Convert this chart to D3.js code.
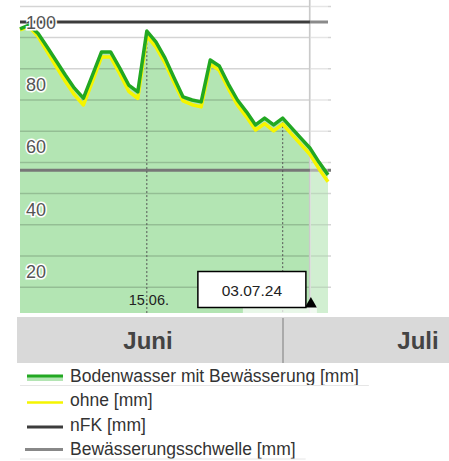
<!DOCTYPE html>
<html>
<head>
<meta charset="utf-8">
<script src="https://cdn.jsdelivr.net/npm/d3@7"></script>
<style>
    html, body { margin: 0; padding: 0; background: #fff; }
    svg { display: block; font-family: 'Liberation Sans', Arial, sans-serif; }
</style>
</head>
<body>
<div id="chart"></div>
<script>
///// DATOS //////
const fechas = ['01.06.', '02.06.', '03.06.', '04.06.', '05.06.', '06.06.', '07.06.', '08.06.', '09.06.', '10.06.',
    '11.06.', '12.06.', '13.06.', '14.06.', '15.06.', '16.06.', '17.06.', '18.06.', '19.06.', '20.06.',
    '21.06.', '22.06.', '23.06.', '24.06.', '25.06.', '26.06.', '27.06.', '28.06.', '29.06.', '30.06.',
    '01.07.', '02.07.', '03.07.', '04.07.', '05.07.'];

// Bodenwasser mit Bewässerung [mm]
const mitBewaesserung = [97.8, 99.0, 96.3, 92.0, 87.5, 83.0, 78.8, 75.6, 83.0, 90.4,
    90.4, 85.3, 79.8, 77.6, 97.1, 93.6, 88.5, 82.1, 76.0, 75.0,
    74.4, 87.8, 85.9, 80.1, 75.0, 71.2, 67.0, 69.2, 67.0, 69.2,
    66.0, 62.8, 59.6, 55.1, 51.0];

// ohne [mm]
const ohne = [97.5, 98.5, 95.3, 90.5, 85.7, 81.0, 76.7, 73.4, 81.0, 88.8,
    88.8, 83.5, 77.8, 75.5, 95.5, 92.0, 86.9, 80.6, 74.7, 73.5,
    72.8, 86.5, 84.5, 78.6, 73.4, 69.6, 65.4, 67.4, 65.1, 67.3,
    64.0, 60.8, 57.6, 53.0, 48.8];

const nFK = 100;
const schwelle = 52.5;

const yTicks = [20, 40, 60, 80, 100];
const yGrid = [15, 25, 35, 45, 55, 65, 75, 85, 95, 105];

const monate = ['Juni', 'Juli'];
const heute = '03.07.';
const heuteLabel = '03.07.24';
const markiert = ['15.06.', '30.06.'];

const legende = [
    { name: 'Bodenwasser mit Bewässerung [mm]', tipo: 'area' },
    { name: 'ohne [mm]', tipo: 'ohne' },
    { name: 'nFK [mm]', tipo: 'nfk' },
    { name: 'Bewässerungsschwelle [mm]', tipo: 'schwelle' }
];

///// VISUALIZACIÓN //////
const W = 449, H = 461;
const plot = { left: 20, right: 328, top: 3, bottom: 313 };

const svg = d3.select('#chart')
    .append('svg')
    .attr('width', W)
    .attr('height', H);

let x = d3.scalePoint()
    .domain(fechas)
    .range([plot.left, plot.right]);

let y = d3.scaleLinear()
    .domain([0, 100])
    .range([334, 22]);

let datos = fechas.map(function(f, i) {
    return { fecha: f, mit: mitBewaesserung[i], ohne: ohne[i] };
});

//Área verde
let area = d3.area()
    .x(function(d) { return x(d.fecha); })
    .y0(plot.bottom)
    .y1(function(d) { return y(d.mit); });

svg.append('path')
    .datum(datos)
    .attr('d', area)
    .attr('fill', '#b3e5b3');

//Rejilla
svg.append('g')
    .selectAll('line')
    .data(yGrid)
    .enter()
    .append('line')
    .attr('x1', plot.left)
    .attr('x2', plot.right + 3)
    .attr('y1', function(d) { return y(d); })
    .attr('y2', function(d) { return y(d); })
    .attr('stroke', 'rgba(0,0,0,0.17)')
    .attr('stroke-width', 1.5);

//Línea de hoy
let xHoy = x(heute);
svg.append('line')
    .attr('x1', xHoy).attr('x2', xHoy)
    .attr('y1', 0).attr('y2', plot.bottom)
    .attr('stroke', '#c8c8c8')
    .attr('stroke-width', 2);

//nFK y umbral
svg.append('line')
    .attr('x1', plot.left).attr('x2', plot.right)
    .attr('y1', y(nFK)).attr('y2', y(nFK))
    .attr('stroke', '#3c3c3c')
    .attr('stroke-width', 3);

svg.append('line')
    .attr('x1', plot.left).attr('x2', plot.right + 3)
    .attr('y1', y(schwelle)).attr('y2', y(schwelle))
    .attr('stroke', '#777')
    .attr('stroke-width', 3);

//Previsión más clara
svg.append('rect')
    .attr('x', xHoy)
    .attr('y', 0)
    .attr('width', plot.right - xHoy)
    .attr('height', plot.bottom)
    .attr('fill', '#fff')
    .attr('opacity', 0.4);

//Líneas verticales punteadas
svg.append('g')
    .selectAll('line')
    .data(markiert)
    .enter()
    .append('line')
    .attr('x1', function(d) { return x(d); })
    .attr('x2', function(d) { return x(d); })
    .attr('y1', function(d) { return y(mitBewaesserung[fechas.indexOf(d)]); })
    .attr('y2', plot.bottom)
    .attr('stroke', '#555')
    .attr('stroke-width', 1)
    .attr('stroke-dasharray', '2,2');

//Series
let lineOhne = d3.line()
    .x(function(d) { return x(d.fecha); })
    .y(function(d) { return y(d.ohne); });

let lineMit = d3.line()
    .x(function(d) { return x(d.fecha); })
    .y(function(d) { return y(d.mit); });

svg.append('path')
    .datum(datos)
    .attr('d', lineOhne)
    .attr('fill', 'none')
    .attr('stroke', '#f5f500')
    .attr('stroke-width', 3.5)
    .attr('stroke-linejoin', 'round');

svg.append('path')
    .datum(datos)
    .attr('d', lineMit)
    .attr('fill', 'none')
    .attr('stroke', '#22a822')
    .attr('stroke-width', 3.5)
    .attr('stroke-linejoin', 'round');

//Eje Y (etiquetas)
svg.append('g')
    .selectAll('text')
    .data(yTicks)
    .enter()
    .append('text')
    .attr('x', 26)
    .attr('y', function(d) { return y(d) + 6.5; })
    .attr('font-size', 18)
    .attr('fill', '#555')
    .attr('stroke', '#fff')
    .attr('stroke-width', 3)
    .attr('paint-order', 'stroke')
    .text(function(d) { return d; });

//Etiqueta 15.06.
svg.append('text')
    .attr('x', x(markiert[0]) + 2)
    .attr('y', 305)
    .attr('text-anchor', 'middle')
    .attr('font-size', 14.5)
    .attr('fill', '#222')
    .text(markiert[0]);

//Caja de fecha y triángulo
svg.append('rect')
    .attr('x', xHoy - 67)
    .attr('y', 306)
    .attr('width', 74)
    .attr('height', 7)
    .attr('fill', '#fff')
    .attr('opacity', 0.7);

svg.append('path')
    .attr('d', d3.symbol().type(d3.symbolTriangle).size(62)())
    .attr('transform', 'translate(' + (xHoy + 1) + ',304)')
    .attr('fill', '#000');

svg.append('rect')
    .attr('x', xHoy - 112)
    .attr('y', 271.5)
    .attr('width', 108)
    .attr('height', 36)
    .attr('fill', '#fff')
    .attr('stroke', '#000')
    .attr('stroke-width', 1.5);

svg.append('text')
    .attr('x', xHoy - 58)
    .attr('y', 296)
    .attr('text-anchor', 'middle')
    .attr('font-size', 15.5)
    .attr('fill', '#222')
    .text(heuteLabel);

//Barra de meses
let m = d3.scaleBand()
    .domain(monate)
    .range([13, 553]);

svg.append('rect')
    .attr('x', 17)
    .attr('y', 317)
    .attr('width', W - 17)
    .attr('height', 46)
    .attr('fill', '#d9d9d9');

svg.append('line')
    .attr('x1', m(monate[1])).attr('x2', m(monate[1]))
    .attr('y1', 318).attr('y2', 363)
    .attr('stroke', '#aaa')
    .attr('stroke-width', 2);

svg.append('g')
    .selectAll('text')
    .data(monate)
    .enter()
    .append('text')
    .attr('x', function(d) { return m(d) + m.bandwidth() / 2; })
    .attr('y', 349)
    .attr('text-anchor', 'middle')
    .attr('font-size', 24)
    .attr('font-weight', 'bold')
    .attr('fill', '#444')
    .text(function(d) { return d; });

//Leyenda
let leg = svg.append('g')
    .selectAll('g')
    .data(legende)
    .enter()
    .append('g')
    .attr('transform', function(d, i) { return 'translate(0,' + (376 + i * 24.5) + ')'; });

leg.each(function(d, i) {
    let g = d3.select(this);
    if (d.tipo == 'area') {
        g.append('rect').attr('x', 27).attr('y', 0).attr('width', 36).attr('height', 5).attr('fill', '#b3e5b3');
        g.append('line').attr('x1', 27).attr('x2', 63).attr('stroke', '#22a822').attr('stroke-width', 3);
    } else if (d.tipo == 'ohne') {
        g.append('line').attr('x1', 27).attr('x2', 63).attr('y1', 2).attr('y2', 2).attr('stroke', '#f5f500').attr('stroke-width', 2.5);
    } else if (d.tipo == 'nfk') {
        g.append('line').attr('x1', 27).attr('x2', 63).attr('y1', 2).attr('y2', 2).attr('stroke', '#3c3c3c').attr('stroke-width', 3);
    } else {
        g.append('line').attr('x1', 25).attr('x2', 63).attr('stroke', '#888').attr('stroke-width', 3);
    }
    let t = g.append('text')
        .attr('x', 70)
        .attr('y', 5.5)
        .attr('font-size', 17.5)
        .attr('fill', '#333')
        .text(d.name);
    if (i == 0 || i == legende.length - 1) {
        let w = t.node().getComputedTextLength();
        g.append('line')
            .attr('x1', 20).attr('x2', 70 + w + 10)
            .attr('y1', 9.5).attr('y2', 9.5)
            .attr('stroke', '#e6e6e6')
            .attr('stroke-width', 1);
    }
});
</script>
</body>
</html>
